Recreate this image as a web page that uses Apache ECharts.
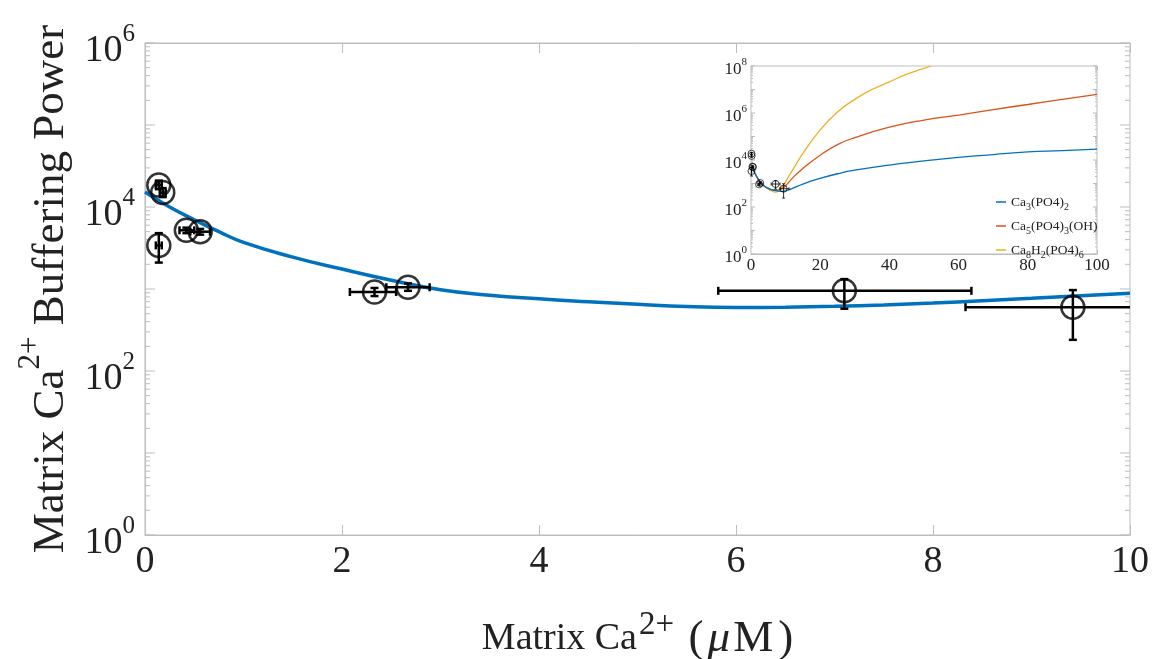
<!DOCTYPE html>
<html><head><meta charset="utf-8">
<script src="https://cdn.jsdelivr.net/npm/echarts@6/dist/echarts.min.js"></script>
<style>html,body{margin:0;padding:0;background:#fff}#c{width:1167px;height:659px}</style>
</head><body><div id="c"></div>
<script>
// ---- measured data points (x in uM, buffering power) ----
const ptX   = [0.14, 0.18, 0.14, 0.42, 0.56, 2.33, 2.67, 7.10, 9.42];
const ptY   = [18600, 15000, 3400, 5200, 5000, 920, 1050, 950, 600];
const ptXLo = [0.11, 0.15, 0.11, 0.35, 0.46, 2.08, 2.45, 5.82, 8.33];
const ptXHi = [0.17, 0.21, 0.17, 0.50, 0.66, 2.55, 2.89, 8.39, 11.0];
const ptYLo = [16500, 13200, 2100, 4800, 4600, 820, 950, 575, 240];
const ptYHi = [21000, 17000, 4800, 5600, 5400, 1030, 1170, 1320, 970];

// ---- main fit curve ----
const fitX = [0, 0.25, 0.5, 0.75, 1, 1.5, 2, 2.5, 3, 3.5, 4, 4.5, 5, 5.5, 6, 6.5, 7, 7.5, 8, 8.5, 9, 9.5, 10];
const fitY = [15200, 10000, 7000, 5000, 3700, 2450, 1750, 1280, 980, 840, 760, 700, 650, 610, 595, 600, 615, 640, 675, 720, 770, 830, 890];

// ---- inset curves ----
const inX      = [0, 1, 2, 3, 4, 5, 6, 7, 8, 9, 10, 12, 15, 20, 25, 30, 40, 50, 60, 70, 80, 90, 100];
const inBlue   = [6000, 3000, 1600, 1000, 750, 620, 550, 500, 470, 460, 480, 620, 950, 1650, 2600, 3700, 6100, 9100, 13000, 17000, 22000, 25000, 29000];
const inRed    = [6000, 3000, 1600, 1000, 750, 620, 550, 520, 540, 620, 800, 1700, 4400, 16000, 45000, 90000, 250000, 500000, 820000, 1400000, 2300000, 3800000, 6200000];
const inOrX    = [0, 1, 2, 3, 4, 5, 6, 7, 8, 9, 10, 12, 15, 20, 25, 30, 35, 40, 45, 50, 52];
const inOrange = [6000, 3000, 1600, 1000, 750, 580, 480, 430, 480, 700, 1200, 3700, 19000, 190000, 1100000, 3800000, 10000000, 21000000, 45000000, 80000000, 100000000];

const legendNames = ['Ca3(PO4)2', 'Ca5(PO4)3(OH)', 'Ca8H2(PO4)6'];
const legendRich  = ['Ca{sub|3}(PO4){sub|2}', 'Ca{sub|5}(PO4){sub|3}(OH)', 'Ca{sub|8}H{sub|2}(PO4){sub|6}'];
const curveColors = ['#0072BD', '#D95319', '#EDB120'];

const FONT = 'Liberation Serif';
const AX = '#bdbdbd';
const TXT = '#222';

const pts = ptX.map((x, i) => [x, ptY[i], ptXLo[i], ptXHi[i], ptYLo[i], ptYHi[i]]);
const zip = (a, b) => a.map((x, i) => [x, b[i]]);

function logTickData(x0, maxExp) {
  const t = [];
  for (let e = 0; e <= maxExp; e++) {
    for (let m = 1; m <= 9; m++) {
      if (e === maxExp && m > 1) break;
      t.push([x0, m * Math.pow(10, e), m === 1 ? 1 : 0]);
    }
  }
  return t;
}

function tickRender(majLen, minLen) {
  return function (params, api) {
    const cs = params.coordSys;
    const y = api.coord([api.value(0), api.value(1)])[1];
    const len = api.value(2) ? majLen : minLen;
    const st = { stroke: AX, lineWidth: 1 };
    return { type: 'group', silent: true, children: [
      { type: 'line', shape: { x1: cs.x, y1: y, x2: cs.x + len, y2: y }, style: st },
      { type: 'line', shape: { x1: cs.x + cs.width, y1: y, x2: cs.x + cs.width - len, y2: y }, style: st }
    ]};
  };
}

function errRender(cap, lw) {
  return function (params, api) {
    const cs = params.coordSys;
    const right = cs.x + cs.width;
    const x = api.value(0), y = api.value(1);
    const c = api.coord([x, y]);
    const xl = api.coord([api.value(2), y])[0];
    const xh = api.coord([api.value(3), y])[0];
    const yl = api.coord([x, api.value(4)])[1];
    const yh = api.coord([x, api.value(5)])[1];
    const st = { stroke: '#000', lineWidth: lw };
    const ch = [];
    const hx2 = Math.min(xh, right);
    ch.push({ type: 'line', shape: { x1: xl, y1: c[1], x2: hx2, y2: c[1] }, style: st });
    ch.push({ type: 'line', shape: { x1: xl, y1: c[1] - cap, x2: xl, y2: c[1] + cap }, style: st });
    if (xh <= right) ch.push({ type: 'line', shape: { x1: xh, y1: c[1] - cap, x2: xh, y2: c[1] + cap }, style: st });
    ch.push({ type: 'line', shape: { x1: c[0], y1: yl, x2: c[0], y2: yh }, style: st });
    ch.push({ type: 'line', shape: { x1: c[0] - cap, y1: yl, x2: c[0] + cap, y2: yl }, style: st });
    ch.push({ type: 'line', shape: { x1: c[0] - cap, y1: yh, x2: c[0] + cap, y2: yh }, style: st });
    return { type: 'group', children: ch };
  };
}

const expFmt = v => '{b|10}{sup|' + Math.round(Math.log10(v)) + '}';

const chart = echarts.init(document.getElementById('c'), null, { renderer: 'canvas' });
chart.setOption({
  animation: false,
  backgroundColor: '#fff',
  grid: [
    { left: 145, top: 43, width: 985, height: 492, show: true, borderColor: AX, borderWidth: 1, backgroundColor: '#fff',
      containLabel: false, outerBoundsMode: 'none' },
    { left: 751, top: 66, width: 346, height: 188, show: true, borderColor: AX, borderWidth: 1, backgroundColor: '#fff', z: 5,
      containLabel: false, outerBoundsMode: 'none' }
  ],
  xAxis: [
    { gridIndex: 0, type: 'value', min: 0, max: 10, interval: 2, position: 'bottom',
      name: '{t|Matrix Ca}{sup|2+}{t| }{p|(}{mu|μ}{m|M}{p|)}', nameLocation: 'middle', nameGap: 74,
      nameTextStyle: { fontFamily: FONT, fontSize: 38, color: TXT,
        rich: { t: { fontFamily: FONT, fontSize: 38, color: TXT, lineHeight: 60 },
                sup: { fontFamily: FONT, fontSize: 33, color: TXT, verticalAlign: 'top', lineHeight: 28, padding: [0, 5, 0, 2] },
                p: { fontFamily: FONT, fontSize: 45, color: TXT, lineHeight: 60 },
                mu: { fontFamily: FONT, fontSize: 45, color: TXT, fontStyle: 'italic', lineHeight: 60, padding: [0, 3, 0, 4] },
                m: { fontFamily: FONT, fontSize: 45, color: TXT, lineHeight: 60, padding: [0, 5, 0, 0] } } },
      axisLine: { lineStyle: { color: AX } }, axisTick: { inside: true, length: 10, lineStyle: { color: AX } },
      splitLine: { show: false },
      axisLabel: { fontFamily: FONT, fontSize: 38, color: TXT, margin: 8 } },
    { gridIndex: 0, type: 'value', min: 0, max: 10, interval: 2, position: 'top',
      axisLine: { lineStyle: { color: AX } }, axisTick: { inside: true, length: 10, lineStyle: { color: AX } },
      splitLine: { show: false }, axisLabel: { show: false } },
    { gridIndex: 1, type: 'value', min: 0, max: 100, interval: 20, position: 'bottom',
      axisLine: { lineStyle: { color: AX } }, axisTick: { inside: true, length: 4, lineStyle: { color: AX } },
      splitLine: { show: false },
      axisLabel: { fontFamily: FONT, fontSize: 17, color: TXT, margin: 3 } },
    { gridIndex: 1, type: 'value', min: 0, max: 100, interval: 20, position: 'top',
      axisLine: { lineStyle: { color: AX } }, axisTick: { inside: true, length: 4, lineStyle: { color: AX } },
      splitLine: { show: false }, axisLabel: { show: false } }
  ],
  yAxis: [
    { gridIndex: 0, type: 'log', logBase: 10, min: 1, max: 1e6, interval: 2,
      name: '{t|Matrix Ca}{sup|2+}{t| Buffering Power}', nameLocation: 'middle', nameRotate: 90, nameGap: 35,
      nameTextStyle: { fontFamily: FONT, fontSize: 45, color: TXT,
        rich: { t: { fontFamily: FONT, fontSize: 45, color: TXT, lineHeight: 72 },
                sup: { fontFamily: FONT, fontSize: 31, color: TXT, verticalAlign: 'top', lineHeight: 28 } } },
      axisLine: { lineStyle: { color: AX } }, axisTick: { show: false }, splitLine: { show: false },
      axisLabel: { formatter: expFmt, margin: 10, padding: [16, 0, 0, 0],
        rich: { b: { fontFamily: FONT, fontSize: 38, color: TXT, lineHeight: 58 },
                sup: { fontFamily: FONT, fontSize: 25, color: TXT, verticalAlign: 'top', lineHeight: 22 } } } },
    { gridIndex: 1, type: 'log', logBase: 10, min: 1, max: 1e8, interval: 2,
      axisLine: { lineStyle: { color: AX } }, axisTick: { show: false }, splitLine: { show: false },
      axisLabel: { formatter: expFmt, margin: 4, padding: [8, 0, 0, 0],
        rich: { b: { fontFamily: FONT, fontSize: 17, color: TXT, lineHeight: 26 },
                sup: { fontFamily: FONT, fontSize: 11, color: TXT, verticalAlign: 'top', lineHeight: 10 } } } }
  ],
  legend: {
    data: legendNames, orient: 'vertical', left: 996, top: 192, itemGap: 4, z: 20,
    icon: 'rect', itemWidth: 10, itemHeight: 1.5, itemStyle: { borderWidth: 0 }, padding: 0,
    formatter: n => legendRich[legendNames.indexOf(n)],
    textStyle: { fontFamily: FONT, fontSize: 13.5, color: TXT, lineHeight: 20,
      rich: { sub: { fontFamily: FONT, fontSize: 10, color: TXT, verticalAlign: 'bottom', lineHeight: 10 } } }
  },
  series: [
    { type: 'custom', xAxisIndex: 0, yAxisIndex: 0, renderItem: tickRender(10, 5), data: logTickData(0, 6), silent: true, z: 1 },
    { type: 'line', xAxisIndex: 0, yAxisIndex: 0, data: zip(fitX, fitY), smooth: true, showSymbol: false,
      lineStyle: { color: '#0072BD', width: 3.5 }, z: 2 },
    { type: 'custom', xAxisIndex: 0, yAxisIndex: 0, renderItem: errRender(4, 2.5), data: pts, z: 3 },
    { type: 'scatter', xAxisIndex: 0, yAxisIndex: 0, data: pts.map(p => [p[0], p[1]]), symbol: 'circle', symbolSize: 23,
      itemStyle: { color: 'rgba(255,255,255,0)', borderColor: '#000', borderWidth: 2.5 }, z: 4 },

    { type: 'custom', xAxisIndex: 2, yAxisIndex: 1, renderItem: tickRender(4, 2), data: logTickData(0, 8), silent: true, z: 6 },
    { name: legendNames[2], type: 'line', xAxisIndex: 2, yAxisIndex: 1, data: zip(inOrX, inOrange), smooth: true, showSymbol: false,
      lineStyle: { color: curveColors[2], width: 1.3 }, itemStyle: { color: curveColors[2] }, z: 7 },
    { name: legendNames[1], type: 'line', xAxisIndex: 2, yAxisIndex: 1, data: zip(inX, inRed), smooth: true, showSymbol: false,
      lineStyle: { color: curveColors[1], width: 1.3 }, itemStyle: { color: curveColors[1] }, z: 7 },
    { name: legendNames[0], type: 'line', xAxisIndex: 2, yAxisIndex: 1, data: zip(inX, inBlue), smooth: true, showSymbol: false,
      lineStyle: { color: curveColors[0], width: 1.3 }, itemStyle: { color: curveColors[0] }, z: 8 },
    { type: 'custom', xAxisIndex: 2, yAxisIndex: 1, renderItem: errRender(1.5, 0.8), data: pts, z: 9 },
    { type: 'scatter', xAxisIndex: 2, yAxisIndex: 1, data: pts.map(p => [p[0], p[1]]), symbol: 'circle', symbolSize: 7,
      itemStyle: { color: 'rgba(255,255,255,0)', borderColor: '#000', borderWidth: 0.9 }, z: 10 }
  ]
});
</script>
</body></html>
